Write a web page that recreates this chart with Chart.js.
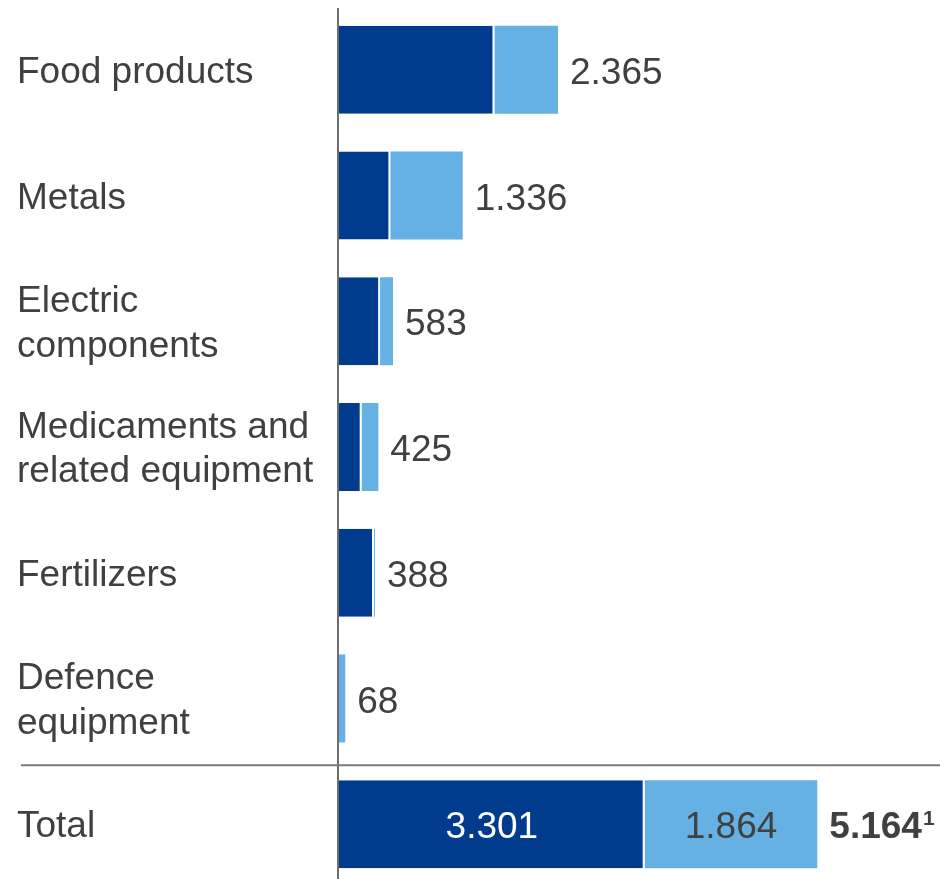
<!DOCTYPE html>
<html>
<head>
<meta charset="utf-8">
<script src="https://cdn.jsdelivr.net/npm/chart.js@4.4.1/dist/chart.umd.min.js"></script>
<style>
  html, body { margin: 0; padding: 0; background: #fff; overflow: hidden; }
  #wrap { width: 940px; height: 887px; }
</style>
</head>
<body>
<div id="wrap"><canvas id="exportChart"></canvas></div>
<script>
// Categories (multi-line labels as arrays)
const categories = [
  'Food products',
  'Metals',
  ['Electric', 'components'],
  ['Medicaments and', 'related equipment'],
  'Fertilizers',
  ['Defence', 'equipment'],
  'Total'
];
// Two stacked components per row
const darkValues  = [1679, 555, 444, 245, 378, 0, 3301];
const lightValues = [686, 781, 139, 180, 10, 68, 1864];
// Printed totals at the end of each bar
const totalLabels = [2365, 1336, 583, 425, 388, 68, 5164];

const DARK = '#003B8E';
const LIGHT = '#66B1E3';
const TEXT = '#404040';
const FONT = '"Liberation Sans", Arial, sans-serif';

// 1234 -> "1.234"
function fmt(n) {
  return String(n).replace(/\B(?=(\d{3})+(?!\d))/g, '.');
}

// Value labels, axis line and the separator above the Total row
const decorations = {
  id: 'decorations',
  afterDatasetsDraw(chart) {
    const ctx = chart.ctx;
    const area = chart.chartArea;
    const y = chart.scales.y;
    const last = categories.length - 1;

    ctx.save();
    // vertical axis line
    ctx.strokeStyle = '#6e6e6e';
    ctx.lineWidth = 2;
    ctx.beginPath();
    ctx.moveTo(area.left - 1, 8);
    ctx.lineTo(area.left - 1, chart.height);
    ctx.stroke();

    // separator between categories and total
    const sepY = (y.getPixelForValue(last - 1) + y.getPixelForValue(last)) / 2 + 4;
    ctx.lineWidth = 2;
    ctx.strokeStyle = '#7a7a7a';
    ctx.beginPath();
    ctx.moveTo(21, sepY);
    ctx.lineTo(chart.width, sepY);
    ctx.stroke();

    ctx.font = '37px ' + FONT;
    ctx.textBaseline = 'middle';
    const darkMeta = chart.getDatasetMeta(0).data;
    const lightMeta = chart.getDatasetMeta(1).data;

    categories.forEach((c, i) => {
      const bar = lightMeta[i];
      const end = Math.max(bar.x, darkMeta[i].x);
      const cy = bar.y + 4;
      if (i < last) {
        ctx.fillStyle = TEXT;
        ctx.textAlign = 'left';
        ctx.fillText(fmt(totalLabels[i]), end + 12, cy);
      } else {
        // numbers inside the total bar
        const d = darkMeta[i];
        ctx.textAlign = 'center';
        ctx.fillStyle = '#ffffff';
        ctx.fillText(fmt(darkValues[i]), (d.base + d.x) / 2, cy);
        ctx.fillStyle = TEXT;
        ctx.fillText(fmt(lightValues[i]), (bar.base + bar.x) / 2, cy);
        // bold grand total with footnote mark
        ctx.textAlign = 'left';
        ctx.font = 'bold 37px ' + FONT;
        const txt = fmt(totalLabels[i]);
        ctx.fillText(txt, end + 12, cy);
        const w = ctx.measureText(txt).width;
        ctx.font = 'bold 21px ' + FONT;
        ctx.fillText('1', end + 13 + w, cy - 9);
      }
    });
    ctx.restore();
  }
};

const ctx = document.getElementById('exportChart').getContext('2d');
new Chart(ctx, {
  type: 'bar',
  data: {
    labels: categories,
    datasets: [
      {
        label: 'Part A',
        data: darkValues,
        backgroundColor: DARK,
        borderColor: '#ffffff',
        borderWidth: { top: 0, right: 2, bottom: 0, left: 0 },
        borderSkipped: false,
        categoryPercentage: 1,
        barPercentage: 0.7
      },
      {
        label: 'Part B',
        data: lightValues,
        backgroundColor: LIGHT,
        borderWidth: 0,
        categoryPercentage: 1,
        barPercentage: 0.7
      }
    ]
  },
  options: {
    indexAxis: 'y',
    responsive: true,
    maintainAspectRatio: false,
    animation: false,
    layout: { padding: { left: 17, top: 7, right: 0, bottom: 0 } },
    plugins: {
      legend: { display: false },
      tooltip: { enabled: false }
    },
    scales: {
      x: {
        stacked: true,
        min: 0,
        max: 6490,
        display: false
      },
      y: {
        stacked: true,
        grid: { display: false },
        border: { display: false },
        afterFit(scale) {
          scale.width = 322;
          scale.paddingTop = 0;
          scale.paddingBottom = 0;
        },
        ticks: {
          crossAlign: 'far',
          color: TEXT,
          padding: 0,
          labelOffset: 3,
          font: { family: FONT, size: 37, lineHeight: 1.2 }
        }
      }
    }
  },
  plugins: [decorations]
});
</script>
</body>
</html>
